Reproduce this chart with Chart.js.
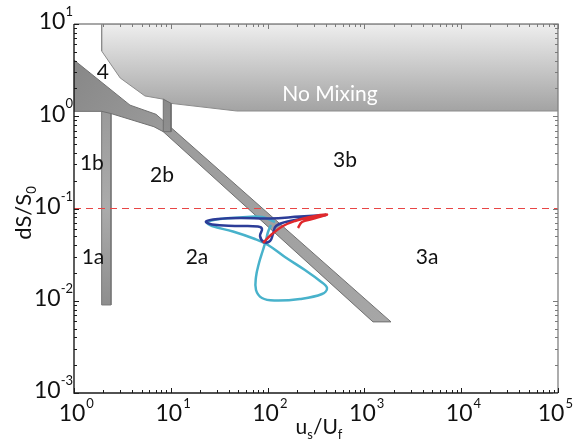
<!DOCTYPE html>
<html>
<head>
<meta charset="utf-8">
<script src="https://cdn.jsdelivr.net/npm/chart.js@4.4.1/dist/chart.umd.min.js"></script>
<style>
  html, body { margin: 0; padding: 0; background: #ffffff; }
  canvas { display: block; }
</style>
</head>
<body>
<canvas id="c" width="573" height="440"></canvas>
<script>
// Axis decades (labels are drawn as 10^k)
const xDecades = [0, 1, 2, 3, 4, 5];
const yDecades = [-3, -2, -1, 0, 1];

// Regime boundaries in (u_s/U_f, dS/S0)
const noMixingX = [1.93, 1.93, 3.0, 5.4, 8.4, 10.0, 48, 1e5, 1e5];
const noMixingY = [10, 5.1, 2.6, 1.66, 1.53, 1.38, 1.14, 1.14, 10];

const bandX = [1, 3.79, 7.03, 1883, 1227, 8.36, 6.7, 2.41, 1.93, 1];
const bandY = [4.07, 1.32, 1.05, 0.0059, 0.0059, 0.68, 0.77, 1.07, 1.13, 1.13];

const barOneX = [1.93, 2.41, 2.41, 1.93];
const barOneY = [1.2, 1.2, 0.009, 0.009];

const barTwoX = [8.36, 10.05, 10.05, 8.36];
const barTwoY = [1.53, 1.38, 0.68, 0.68];

// Stratification threshold
const thresholdX = [1, 1e5];
const thresholdY = [0.1, 0.1];

// Trajectories
const cyanX = [119.2, 87.5, 51.9, 32.2, 23.7, 26.7, 43.9, 74.1, 101, 151, 243, 348, 411, 365, 216, 119, 87.5, 75.9, 75.9, 81.5, 89.6, 96.3, 101, 108.4];
const cyanY = [0.0714, 0.0809, 0.0799, 0.0769, 0.0705, 0.0646, 0.0563, 0.0467, 0.0402, 0.0298, 0.0215, 0.01637, 0.01375, 0.01183, 0.01045, 0.01006, 0.01071, 0.01308, 0.0181, 0.02566, 0.0355, 0.0456, 0.0556, 0.0663];

const blueX = [401, 216, 105.9, 51.9, 30.7, 23.1, 26.7, 46.0, 79.6, 87.5, 83.5, 91.8, 105.9, 113.7, 122.1, 170.4, 401];
const blueY = [0.0850, 0.0819, 0.0779, 0.0789, 0.0769, 0.0723, 0.0671, 0.0646, 0.0638, 0.0600, 0.0503, 0.0433, 0.0444, 0.0529, 0.0646, 0.0732, 0.0850];

const redX = [89.6, 111.1, 144.3, 191.9, 274.2, 411, 287.5, 226.7, 206.1];
const redY = [0.0423, 0.0529, 0.0646, 0.0732, 0.0809, 0.0861, 0.0769, 0.0714, 0.0615];

// Regime labels
const regionLabels = ['4', '1b', '2b', '3b', '1a', '2a', '3a', 'No Mixing'];
const regionLabelX = [1.99, 1.53, 8.11, 630, 1.57, 18.65, 4434, 441];
const regionLabelY = [3.02, 0.311, 0.231, 0.336, 0.0298, 0.0298, 0.0298, 1.74];

const FONT = 'Lato, "Open Sans", sans-serif';

function pts(xs, ys) { return xs.map((x, i) => ({ x: x, y: ys[i] })); }
function closed(xs, ys) { const p = pts(xs, ys); p.push({ x: xs[0], y: ys[0] }); return p; }

function vGradient(chart, vTop, vBottom, stops, fallback) {
  const area = chart.chartArea;
  if (!area || !chart.scales.y) return fallback;
  const y0 = chart.scales.y.getPixelForValue(vTop);
  const y1 = chart.scales.y.getPixelForValue(vBottom);
  const g = chart.ctx.createLinearGradient(0, y0, 0, y1);
  stops.forEach(s => g.addColorStop(s[0], s[1]));
  return g;
}
function dGradient(chart, p0, p1, stops, fallback) {
  const area = chart.chartArea;
  if (!area || !chart.scales.x) return fallback;
  const sx = chart.scales.x, sy = chart.scales.y;
  const g = chart.ctx.createLinearGradient(
    sx.getPixelForValue(p0[0]), sy.getPixelForValue(p0[1]),
    sx.getPixelForValue(p1[0]), sy.getPixelForValue(p1[1]));
  stops.forEach(s => g.addColorStop(s[0], s[1]));
  return g;
}

const curveBase = { showLine: true, pointRadius: 0, borderWidth: 2.5, tension: 0.4, fill: false };
const shapeBase = { showLine: true, pointRadius: 0, tension: 0, fill: 'shape' };

// Axes frame, ticks, tick labels, titles and regime labels
const decorations = {
  id: 'decorations',
  afterDatasetsDraw(chart) {
    const { ctx, chartArea: a, scales } = chart;
    const sx = scales.x, sy = scales.y;
    const W = chart.width;
    ctx.save();

    // regime labels
    ctx.textAlign = 'center';
    ctx.textBaseline = 'middle';
    regionLabels.forEach((t, i) => {
      const px = sx.getPixelForValue(regionLabelX[i]);
      const py = sy.getPixelForValue(regionLabelY[i]);
      ctx.font = '21px ' + FONT;
      ctx.fillStyle = t === 'No Mixing' ? '#ffffff' : '#111111';
      ctx.fillText(t, px, py);
    });

    // frame
    ctx.lineWidth = 1.4;
    ctx.strokeStyle = '#8a8a8a';
    ctx.beginPath();
    ctx.moveTo(a.left, a.top); ctx.lineTo(a.right, a.top); ctx.lineTo(a.right, a.bottom);
    ctx.stroke();
    ctx.strokeStyle = '#1a1a1a';
    ctx.beginPath();
    ctx.moveTo(a.left, a.top); ctx.lineTo(a.left, a.bottom); ctx.lineTo(a.right, a.bottom);
    ctx.stroke();

    // ticks
    ctx.lineWidth = 1;
    const xTicks = [], yTicks = [];
    for (let k = xDecades[0]; k <= xDecades[xDecades.length - 1]; k++) {
      xTicks.push({ v: Math.pow(10, k), major: true });
      if (k < xDecades[xDecades.length - 1]) for (let m = 2; m <= 9; m++) xTicks.push({ v: m * Math.pow(10, k), major: false });
    }
    for (let k = yDecades[0]; k <= yDecades[yDecades.length - 1]; k++) {
      yTicks.push({ v: Math.pow(10, k), major: true });
      if (k < yDecades[yDecades.length - 1]) for (let m = 2; m <= 9; m++) yTicks.push({ v: m * Math.pow(10, k), major: false });
    }
    xTicks.forEach(t => {
      const px = Math.round(sx.getPixelForValue(t.v)) + 0.5;
      const len = t.major ? 5 : 3;
      ctx.strokeStyle = '#1a1a1a';
      ctx.beginPath(); ctx.moveTo(px, a.bottom); ctx.lineTo(px, a.bottom - len); ctx.stroke();
      ctx.strokeStyle = '#7a7a7a';
      ctx.beginPath(); ctx.moveTo(px, a.top); ctx.lineTo(px, a.top + len); ctx.stroke();
    });
    yTicks.forEach(t => {
      const py = Math.round(sy.getPixelForValue(t.v)) + 0.5;
      const len = t.major ? 5 : 3;
      ctx.strokeStyle = '#1a1a1a';
      ctx.beginPath(); ctx.moveTo(a.left, py); ctx.lineTo(a.left + len, py); ctx.stroke();
      ctx.strokeStyle = '#7a7a7a';
      ctx.beginPath(); ctx.moveTo(a.right, py); ctx.lineTo(a.right - len, py); ctx.stroke();
    });

    // tick labels 10^k
    ctx.fillStyle = '#111111';
    ctx.textBaseline = 'middle';
    xDecades.forEach(k => {
      ctx.font = '23px ' + FONT;
      const w = ctx.measureText('10').width;
      ctx.font = '13px ' + FONT;
      const we = ctx.measureText(String(k)).width;
      let cxl = sx.getPixelForValue(Math.pow(10, k)) - 2;
      // keep the last label inside the canvas
      if (cxl + w / 2 + 1 + we > W) cxl = W - we - 1 - w / 2;
      ctx.font = '23px ' + FONT;
      ctx.textAlign = 'center';
      ctx.fillText('10', cxl, 414);
      ctx.font = '13px ' + FONT;
      ctx.textAlign = 'left';
      ctx.fillText(String(k), cxl + w / 2 + 1, 404);
    });
    yDecades.forEach(k => {
      const py = sy.getPixelForValue(Math.pow(10, k)) - 2;
      ctx.font = '13px ' + FONT;
      const e = String(k);
      const we = ctx.measureText(e).width;
      ctx.textAlign = 'right';
      ctx.fillText(e, 73, py - 10);
      ctx.font = '23px ' + FONT;
      ctx.fillText('10', 73 - we, py);
    });

    // x axis title: u_s/U_f
    ctx.textAlign = 'left';
    ctx.textBaseline = 'alphabetic';
    const xParts = [['u', 21, 0], ['s', 13, 5], ['/U', 21, 0], ['f', 13, 5]];
    let totalW = 0;
    xParts.forEach(p => { ctx.font = p[1] + 'px ' + FONT; totalW += ctx.measureText(p[0]).width; });
    let cx = 319 - totalW / 2;
    xParts.forEach(p => {
      ctx.font = p[1] + 'px ' + FONT;
      ctx.fillText(p[0], cx, 434 + p[2]);
      cx += ctx.measureText(p[0]).width;
    });

    // y axis title: dS/S0 (rotated)
    ctx.save();
    ctx.translate(31, 213);
    ctx.rotate(-Math.PI / 2);
    const yParts = [['dS/S', 22, 0], ['0', 13, 5]];
    totalW = 0;
    yParts.forEach(p => { ctx.font = p[1] + 'px ' + FONT; totalW += ctx.measureText(p[0]).width; });
    cx = -totalW / 2;
    yParts.forEach(p => {
      ctx.font = p[1] + 'px ' + FONT;
      ctx.fillText(p[0], cx, 0 + p[2]);
      cx += ctx.measureText(p[0]).width;
    });
    ctx.restore();

    ctx.restore();
  }
};

new Chart(document.getElementById('c'), {
  type: 'scatter',
  data: {
    datasets: [
      Object.assign({}, curveBase, { label: 'red', data: pts(redX, redY), borderColor: '#e0282c' }),
      Object.assign({}, curveBase, { label: 'blue', data: pts(blueX, blueY), borderColor: '#2c3d98' }),
      Object.assign({}, curveBase, { label: 'cyan', data: pts(cyanX, cyanY), borderColor: '#48b2cb' }),
      { label: 'threshold', data: pts(thresholdX, thresholdY), showLine: true, pointRadius: 0, borderWidth: 1.2,
        borderColor: '#e84545', borderDash: [7, 5], fill: false, tension: 0 },
      Object.assign({}, shapeBase, { label: 'bar2', data: closed(barTwoX, barTwoY), borderWidth: 1, borderColor: '#6f6f6f',
        backgroundColor: ctx => vGradient(ctx.chart, 1.53, 0.68, [[0, '#8a8a8a'], [1, '#8f8f8f']], '#8c8c8c') }),
      Object.assign({}, shapeBase, { label: 'band', data: closed(bandX, bandY), borderWidth: 1, borderColor: '#707070',
        backgroundColor: ctx => dGradient(ctx.chart, [1, 4.0], [1800, 0.006], [[0, '#878787'], [0.3, '#9c9c9c'], [1, '#a6a6a6']], '#999999') }),
      Object.assign({}, shapeBase, { label: 'bar1', data: closed(barOneX, barOneY), borderWidth: 1, borderColor: '#7a7a7a',
        backgroundColor: ctx => vGradient(ctx.chart, 1.2, 0.009, [[0, '#9a9a9a'], [0.5, '#ababab'], [1, '#8e8e8e']], '#a0a0a0') }),
      Object.assign({}, shapeBase, { label: 'nomix', data: closed(noMixingX, noMixingY), borderWidth: 1, borderColor: '#8c8c8c',
        backgroundColor: ctx => vGradient(ctx.chart, 10, 1.14, [[0, '#eeeeee'], [1, '#a3a3a3']], '#cccccc') })
    ]
  },
  options: {
    responsive: false,
    animation: false,
    events: [],
    layout: { padding: { left: 74, top: 24, right: 15, bottom: 47 } },
    scales: {
      x: { type: 'logarithmic', min: 1, max: 1e5, display: false },
      y: { type: 'logarithmic', min: 1e-3, max: 10, display: false }
    },
    plugins: { legend: { display: false }, tooltip: { enabled: false } }
  },
  plugins: [decorations]
});
</script>
</body>
</html>
